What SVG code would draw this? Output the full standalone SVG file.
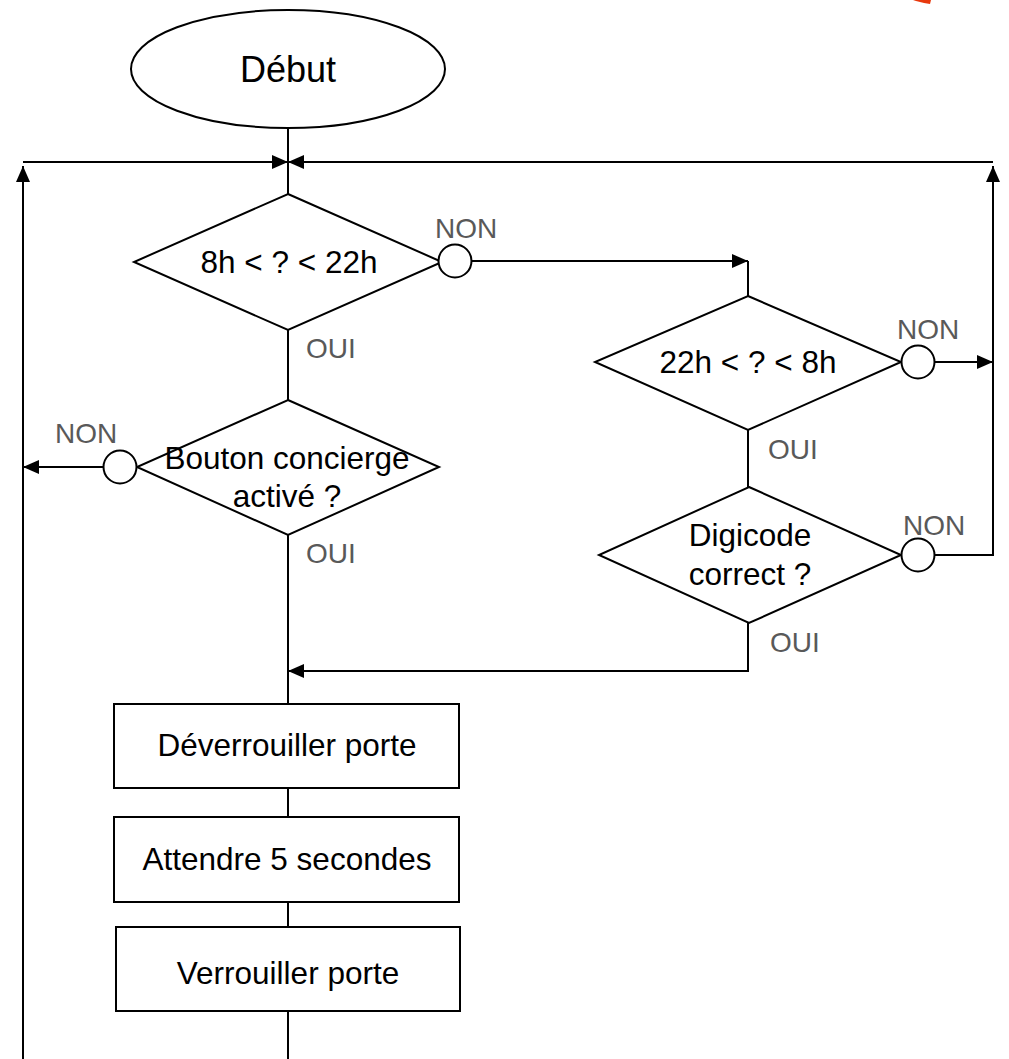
<svg xmlns="http://www.w3.org/2000/svg" width="1009" height="1059" viewBox="0 0 1009 1059">
<style>
.s{fill:#fff;stroke:#000;stroke-width:2}
.t{font-family:"Liberation Sans",Arial,sans-serif;font-size:31.5px;fill:#000;text-anchor:middle}
.l{font-family:"Liberation Sans",Arial,sans-serif;font-size:28px;fill:#595959}
.c{fill:none;stroke:#000;stroke-width:2}
</style>
<defs>
<marker id="a" viewBox="0 0 16 14" refX="16" refY="7" markerWidth="16" markerHeight="14" markerUnits="userSpaceOnUse" orient="auto">
<path d="M0,0 L16,7 L0,14 z" fill="#000"/>
</marker>
</defs>
<rect width="1009" height="1059" fill="#fff"/>
<polygon points="913,0 931,0 930,4 924,3 916,1" fill="#e8380d"/>
<g id="connectors">
<path class="c" d="M288,128 V194"/>
<path class="c" d="M23,162 H288" marker-end="url(#a)"/>
<path class="c" d="M993,162 H288" marker-end="url(#a)"/>
<path class="c" d="M23,1059 V166" marker-end="url(#a)"/>
<path class="c" d="M934,555 H993 V166" marker-end="url(#a)"/>
<path class="c" d="M472,261 H748" marker-end="url(#a)"/>
<path class="c" d="M748,261 V296"/>
<path class="c" d="M935,362 H993" marker-end="url(#a)"/>
<path class="c" d="M748,430 V487"/>
<path class="c" d="M748,623 V671 H288" marker-end="url(#a)"/>
<path class="c" d="M288,330 V400"/>
<path class="c" d="M104,467 H23" marker-end="url(#a)"/>
<path class="c" d="M288,535 V704"/>
<path class="c" d="M288,788 V817"/>
<path class="c" d="M288,902 V927"/>
<path class="c" d="M288,1011 V1059"/>
</g>
<g id="debut">
<ellipse class="s" cx="288" cy="69" rx="157" ry="59"/>
<text class="t" x="288" y="82" style="font-size:36px">Début</text>
</g>
<g id="d1">
<polygon class="s" points="288,194 442,262 288,330 134,262"/>
<text class="t" x="289" y="273">8h &lt; ? &lt; 22h</text>
</g>
<g id="c1"><circle class="s" cx="455" cy="261" r="16.5"/></g>
<g id="d2">
<polygon class="s" points="748,296 901,362 748,430 595,362"/>
<text class="t" x="748" y="373">22h &lt; ? &lt; 8h</text>
</g>
<g id="c2"><circle class="s" cx="918" cy="362" r="16.5"/></g>
<g id="d3">
<polygon class="s" points="749,487 901,555 749,623 599,555"/>
<text class="t" x="750" y="546">Digicode</text>
<text class="t" x="750" y="585">correct ?</text>
</g>
<g id="c3"><circle class="s" cx="918" cy="555" r="16.5"/></g>
<g id="d4">
<polygon class="s" points="288,400 439,467 288,535 137,467"/>
<text class="t" x="287" y="469">Bouton concierge</text>
<text class="t" x="287" y="507">activé ?</text>
</g>
<g id="c4"><circle class="s" cx="120" cy="467" r="16.5"/></g>
<g id="r1">
<rect class="s" x="114" y="704" width="345" height="84"/>
<text class="t" x="287" y="756">Déverrouiller porte</text>
</g>
<g id="r2">
<rect class="s" x="114" y="817" width="345" height="85"/>
<text class="t" x="287" y="870">Attendre 5 secondes</text>
</g>
<g id="r3">
<rect class="s" x="116" y="927" width="344" height="84"/>
<text class="t" x="288" y="984">Verrouiller porte</text>
</g>
<g id="labels">
<text class="l" x="435" y="238">NON</text>
<text class="l" x="306" y="358">OUI</text>
<text class="l" x="897" y="339">NON</text>
<text class="l" x="768" y="459">OUI</text>
<text class="l" x="903" y="535">NON</text>
<text class="l" x="770" y="652">OUI</text>
<text class="l" x="55" y="443">NON</text>
<text class="l" x="306" y="563">OUI</text>
</g>
</svg>
